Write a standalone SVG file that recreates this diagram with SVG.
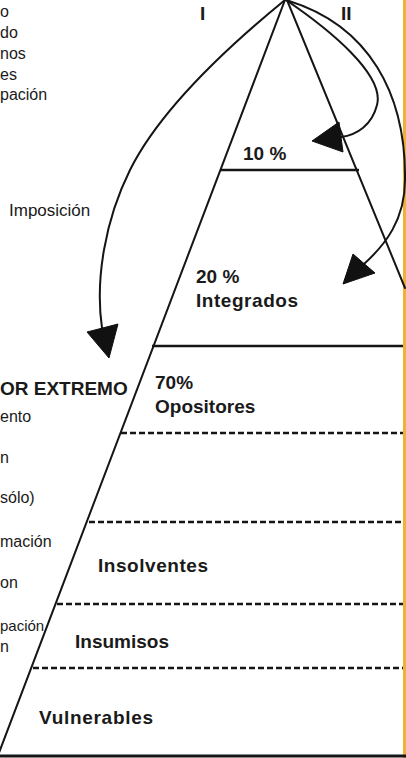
<svg xmlns="http://www.w3.org/2000/svg" width="406" height="758" viewBox="0 0 406 758">
<defs>
<style>
.ln{stroke:#151515;stroke-width:2;fill:none;stroke-linecap:round}
.solid{stroke:#151515;stroke-width:2.6;fill:none}
.dash{stroke:#151515;stroke-width:2.4;fill:none;stroke-dasharray:6 3}
.head{fill:#111;stroke:#111;stroke-width:1;stroke-linejoin:round}
.b{font-family:"Liberation Sans",Arial,sans-serif;font-weight:bold;font-size:19px;fill:#1a1a1a}
.r{font-family:"Liberation Sans",Arial,sans-serif;font-size:16px;fill:#1a1a1a}
</style>
</defs>
<rect width="406" height="758" fill="#ffffff"/>
<rect id="border" x="403" y="0" width="3" height="758" fill="#f2b132"/>

<g id="connectors">
  <line class="ln" x1="285" y1="0" x2="-3" y2="758"/>
  <line class="ln" x1="287" y1="0" x2="405" y2="288"/>
  <line class="solid" x1="221" y1="170" x2="359" y2="170"/>
  <line class="solid" x1="152" y1="346" x2="403" y2="346"/>
  <line class="dash" x1="121" y1="433" x2="403" y2="433"/>
  <line class="dash" x1="89" y1="522" x2="403" y2="522"/>
  <line class="dash" x1="57" y1="604" x2="403" y2="604"/>
  <line class="dash" x1="33" y1="668" x2="403" y2="668"/>
  <line x1="0" y1="756" x2="406" y2="756" stroke="#151515" stroke-width="3"/>
  <path class="ln" d="M285,0 C230,45 160,110 130,170 C105,220 95,280 102,328"/>
  <polygon class="head" points="109,358 87,332 118,324"/>
  <path class="ln" d="M286,0 C330,30 385,75 377,105 C372,125 357,135 341,137"/>
  <polygon class="head" points="312,141 339,122 343,152"/>
  <path class="ln" d="M286,0 C370,25 406,95 405,180 C405,220 385,245 364,264"/>
  <polygon class="head" points="343,284 353,254 375,273"/>
</g>

<g id="roman-labels">
  <text class="b" x="200" y="20">I</text>
  <text class="b" x="341" y="20">II</text>
</g>
<g id="top-left-list">
  <text class="r" x="0" y="17">o</text>
  <text class="r" x="0" y="38">do</text>
  <text class="r" x="0" y="59">nos</text>
  <text class="r" x="0" y="80">es</text>
  <text class="r" x="0" y="100">pación</text>
</g>
<g id="imposicion">
  <text class="r" x="9" y="216" style="font-size:17px">Imposición</text>
</g>
<g id="level-10">
  <text class="b" x="243" y="160">10 %</text>
</g>
<g id="level-20">
  <text class="b" x="196" y="283">20 %</text>
  <text class="b" x="196" y="307" textLength="102" lengthAdjust="spacing">Integrados</text>
</g>
<g id="level-70">
  <text class="b" x="155" y="389">70%</text>
  <text class="b" x="155" y="413">Opositores</text>
</g>
<g id="extremo">
  <text class="b" x="0" y="395">OR EXTREMO</text>
  <text class="r" x="0" y="422">ento</text>
  <text class="r" x="0" y="463">n</text>
  <text class="r" x="0" y="503">sólo)</text>
  <text class="r" x="0" y="547">mación</text>
  <text class="r" x="0" y="588">on</text>
  <text class="r" x="0" y="631" style="font-size:15px">pación</text>
  <text class="r" x="0" y="652">n</text>
</g>
<g id="insolventes">
  <text class="b" x="98" y="572" textLength="110" lengthAdjust="spacing">Insolventes</text>
</g>
<g id="insumisos">
  <text class="b" x="75" y="648">Insumisos</text>
</g>
<g id="vulnerables">
  <text class="b" x="39" y="724" textLength="114" lengthAdjust="spacing">Vulnerables</text>
</g>
</svg>
